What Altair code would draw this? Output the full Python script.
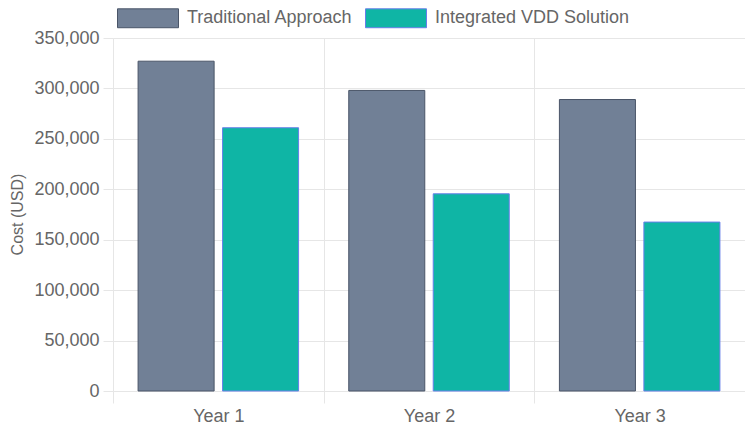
import altair as alt
import pandas as pd

years = ["Year 1", "Year 2", "Year 3"]
series = ["Traditional Approach", "Integrated VDD Solution"]
traditional = [327000, 298000, 289000]
vdd = [261000, 195500, 167500]
fill_colors = ["#718096", "#0fb5a5"]
stroke_colors = ["#4a5568", "#667eea"]

rows = []
for i, y in enumerate(years):
    rows.append({"Year": y, "Series": series[0], "Cost": traditional[i]})
    rows.append({"Year": y, "Series": series[1], "Cost": vdd[i]})
df = pd.DataFrame(rows)

grid = "#e6e6e6"
txt = "#666666"

legend_opts = dict(
    title=None,
    orient="none",
    direction="horizontal",
    legendX=4,
    legendY=-51,
    symbolType="M-1,-0.31H1V0.31H-1Z",
    symbolSize=3721,
    symbolStrokeWidth=1,
    labelFontSize=18,
    labelColor=txt,
    labelOffset=8,
    labelLimit=500,
    columnPadding=10,
    padding=0,
)

chart = alt.Chart(df).mark_bar(strokeWidth=1).encode(
    x=alt.X(
        "Year:N",
        sort=years,
        title=None,
        scale=alt.Scale(paddingInner=0, paddingOuter=0),
        axis=alt.Axis(
            tickBand="extent",
            grid=True,
            gridColor=grid,
            domainColor=grid,
            tickColor=grid,
            tickSize=12,
            labelPadding=4,
            labelAngle=0,
            labelFontSize=18,
            labelColor=txt,
        ),
    ),
    xOffset=alt.XOffset(
        "Series:N",
        sort=series,
        scale=alt.Scale(domain=series, paddingInner=0.1, paddingOuter=0.297),
    ),
    y=alt.Y(
        "Cost:Q",
        scale=alt.Scale(domain=[0, 350000], nice=False),
        axis=alt.Axis(
            values=[0, 50000, 100000, 150000, 200000, 250000, 300000, 350000],
            format=",.0f",
            title="Cost (USD)",
            titleFontSize=16,
            titleFontWeight="normal",
            titleColor=txt,
            titleAngle=-90,
            titleX=-96,
            titleY=176,
            titleAlign="center",
            titleBaseline="middle",
            gridColor=grid,
            domainColor=grid,
            tickColor=grid,
            tickSize=10,
            labelPadding=4,
            labelFontSize=18,
            labelColor=txt,
        ),
    ),
    fill=alt.Fill(
        "Series:N",
        scale=alt.Scale(domain=series, range=fill_colors),
        legend=alt.Legend(**legend_opts),
    ),
    stroke=alt.Stroke(
        "Series:N",
        scale=alt.Scale(domain=series, range=stroke_colors),
        legend=alt.Legend(**legend_opts),
    ),
).properties(
    width=632,
    height=353,
    autosize=alt.AutoSizeParams(type="none"),
    padding={"left": 105, "top": 30, "right": 0, "bottom": 36},
).configure(
    font="Liberation Sans",
).configure_view(
    stroke=None,
)

chart.save("out.html", embed_options={"renderer": "svg", "actions": False})
